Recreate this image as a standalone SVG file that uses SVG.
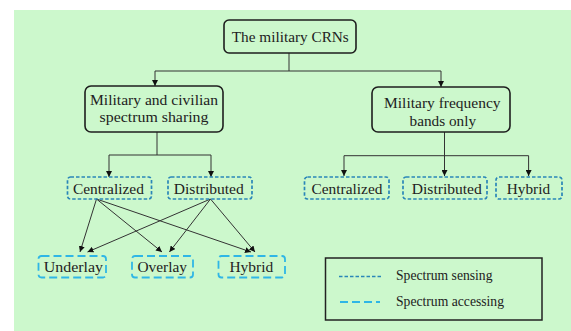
<svg xmlns="http://www.w3.org/2000/svg" width="571" height="331" viewBox="0 0 571 331">
<style>
.bg{fill:#ccf8cc}
.main{fill:none;stroke:#1e1e1e;stroke-width:1.6}
.sens{fill:none;stroke:#2a86b8;stroke-width:1.7;stroke-dasharray:3.5 2}
.acc{fill:none;stroke:#2fb6e6;stroke-width:1.8;stroke-dasharray:8 4}
.t{font-family:"Liberation Serif","DejaVu Serif",serif;fill:#222;text-anchor:middle;dominant-baseline:central;font-size:15px}
.lt{font-family:"Liberation Serif","DejaVu Serif",serif;fill:#222;dominant-baseline:central;font-size:14px}
.conn path{fill:none;stroke:#333;stroke-width:1}
</style>
<defs>
<marker id="ah" viewBox="0 0 10 10" refX="10" refY="5" markerWidth="6" markerHeight="6" orient="auto" markerUnits="userSpaceOnUse">
<path d="M0,0 L10,5 L0,10 Z" fill="#111"/>
</marker>
</defs>
<rect x="0" y="0" width="571" height="331" fill="#ffffff"/>
<rect class="bg" x="14" y="10" width="557" height="321"/>

<g class="conn">
<path d="M289,53 V71 M155,71 H441"/>
<path d="M155,71 V86" marker-end="url(#ah)"/>
<path d="M441,71 V87" marker-end="url(#ah)"/>
<path d="M157,132 V155 M109,155 H211"/>
<path d="M109,155 V177" marker-end="url(#ah)"/>
<path d="M211,155 V177" marker-end="url(#ah)"/>
<path d="M444.5,132 V176" marker-end="url(#ah)"/>
<path d="M344,155.7 H528.6"/>
<path d="M344,155.7 V176" marker-end="url(#ah)"/>
<path d="M528.6,155.7 V176" marker-end="url(#ah)"/>
<path d="M96.5,199 L80,252" marker-end="url(#ah)"/>
<path d="M96.5,199 L162,252" marker-end="url(#ah)"/>
<path d="M96.5,199 L251,252" marker-end="url(#ah)"/>
<path d="M210.5,199 L87.5,252" marker-end="url(#ah)"/>
<path d="M210.5,199 L169.4,252" marker-end="url(#ah)"/>
<path d="M210.5,199 L255,252" marker-end="url(#ah)"/>
</g>

<g id="root">
<rect class="main" x="224" y="20" width="132" height="33" rx="5"/>
<text class="t" x="290.3" y="37" textLength="117" lengthAdjust="spacingAndGlyphs">The military CRNs</text>
</g>
<g id="shared">
<rect class="main" x="85" y="86" width="138" height="46" rx="6"/>
<text class="t" x="154" y="99.5" textLength="128" lengthAdjust="spacingAndGlyphs">Military and civilian</text>
<text class="t" x="154" y="117" textLength="109" lengthAdjust="spacingAndGlyphs">spectrum sharing</text>
</g>
<g id="military">
<rect class="main" x="372" y="87" width="138" height="45" rx="6"/>
<text class="t" x="442.3" y="103" textLength="116.5" lengthAdjust="spacingAndGlyphs">Military frequency</text>
<text class="t" x="442.8" y="121" textLength="66.5" lengthAdjust="spacingAndGlyphs">bands only</text>
</g>
<g id="centralized-l">
<rect class="sens" x="67.5" y="177" width="84" height="22" rx="3"/>
<text class="t" x="108.4" y="188.5" textLength="71" lengthAdjust="spacingAndGlyphs">Centralized</text>
</g>
<g id="distributed-l">
<rect class="sens" x="168" y="177" width="84" height="22" rx="3"/>
<text class="t" x="208.8" y="188.5" textLength="70" lengthAdjust="spacingAndGlyphs">Distributed</text>
</g>
<g id="centralized-r">
<rect class="sens" x="304.5" y="177" width="84.5" height="22" rx="3"/>
<text class="t" x="347" y="188.5" textLength="71" lengthAdjust="spacingAndGlyphs">Centralized</text>
</g>
<g id="distributed-r">
<rect class="sens" x="403" y="177" width="84" height="22" rx="3"/>
<text class="t" x="446.8" y="188.5" textLength="70" lengthAdjust="spacingAndGlyphs">Distributed</text>
</g>
<g id="hybrid-r">
<rect class="sens" x="496" y="177" width="66" height="22" rx="3"/>
<text class="t" x="528.4" y="188.5" textLength="43.3" lengthAdjust="spacingAndGlyphs">Hybrid</text>
</g>
<g id="underlay">
<rect class="acc" x="38.5" y="256" width="67.5" height="21.5" rx="3"/>
<text class="t" x="73.4" y="267" textLength="59.4" lengthAdjust="spacingAndGlyphs">Underlay</text>
</g>
<g id="overlay">
<rect class="acc" x="132" y="256" width="61" height="21.5" rx="3"/>
<text class="t" x="162.2" y="267" textLength="49.5" lengthAdjust="spacingAndGlyphs">Overlay</text>
</g>
<g id="hybrid-l">
<rect class="acc" x="218.5" y="256" width="66.5" height="21.5" rx="3"/>
<text class="t" x="251.3" y="267" textLength="43.7" lengthAdjust="spacingAndGlyphs">Hybrid</text>
</g>
<g id="legend">
<rect x="325.5" y="258" width="216.5" height="62" fill="none" stroke="#222" stroke-width="1.5"/>
<line class="sens" x1="339" y1="276.5" x2="381" y2="276.5" stroke-width="1.8"/>
<line class="acc" x1="340" y1="302" x2="380" y2="302" stroke-width="1.8" stroke-dasharray="15 6"/>
<text class="lt" x="396" y="275.5" textLength="96.5" lengthAdjust="spacingAndGlyphs">Spectrum sensing</text>
<text class="lt" x="396" y="301.5" textLength="108" lengthAdjust="spacingAndGlyphs">Spectrum accessing</text>
</g>
</svg>
